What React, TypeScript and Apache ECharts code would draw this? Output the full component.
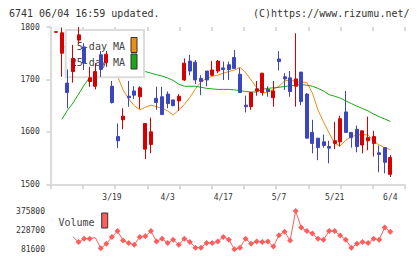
import React, { useEffect, useRef } from "react";
import * as echarts from "echarts";

// Trading days shown on the chart (one candle each)
const dates = [
  "3/5", "3/6", "3/7", "3/8", "3/11", "3/12", "3/13", "3/14", "3/15", "3/18",
  "3/19", "3/21", "3/22", "3/25", "3/26", "3/27", "3/28", "3/29", "4/1", "4/2",
  "4/3", "4/4", "4/5", "4/8", "4/9", "4/10", "4/11", "4/12", "4/15", "4/16",
  "4/17", "4/19", "4/22", "4/23", "4/24", "4/25", "4/26", "4/30", "5/1", "5/2",
  "5/7", "5/8", "5/9", "5/10", "5/13", "5/14", "5/15", "5/16", "5/17", "5/20",
  "5/21", "5/22", "5/23", "5/24", "5/27", "5/28", "5/29", "5/30", "5/31", "6/3",
  "6/4",
];

const opens = [
  1790, 1750, 1693, 1715, 1775, 1762, 1696, 1687, 1747, 1732,
  1687, 1591, 1623, 1668, 1678, 1667, 1567, 1576, 1664, 1667,
  1672, 1661, 1659, 1699, 1735, 1733, 1702, 1716, 1708, 1716,
  1722, 1728, 1742, 1710, 1651, 1648, 1678, 1675, 1681, 1665,
  1739, 1705, 1703, 1687, 1714, 1672, 1599, 1588, 1581, 1572,
  1578, 1581, 1638, 1599, 1605, 1575, 1583, 1578, 1560, 1570,
  1519,
];
const closes = [
  1791, 1789, 1675, 1740, 1785, 1731, 1703, 1715, 1719, 1748,
  1656, 1583, 1630, 1665, 1670, 1684, 1616, 1600, 1656, 1633,
  1654, 1650, 1668, 1731, 1716, 1699, 1696, 1699, 1718, 1735,
  1719, 1719, 1721, 1675, 1648, 1675, 1682, 1712, 1677, 1678,
  1734, 1701, 1677, 1701, 1658, 1588, 1578, 1570, 1574, 1569,
  1583, 1625, 1599, 1589, 1572, 1602, 1589, 1591, 1557, 1542,
  1551,
];
const lows = [
  1790, 1705, 1645, 1694, 1768, 1718, 1686, 1681, 1705, 1724,
  1654, 1569, 1605, 1648, 1663, 1644, 1548, 1559, 1642, 1633,
  1645, 1649, 1640, 1697, 1708, 1691, 1670, 1687, 1707, 1712,
  1699, 1699, 1721, 1675, 1637, 1642, 1669, 1669, 1667, 1648,
  1717, 1680, 1667, 1648, 1651, 1588, 1559, 1546, 1570, 1540,
  1567, 1572, 1599, 1570, 1561, 1559, 1565, 1553, 1523, 1521,
  1514,
];
const highs = [
  1791, 1799, 1719, 1766, 1800, 1769, 1724, 1731, 1754, 1754,
  1697, 1616, 1645, 1697, 1687, 1687, 1616, 1627, 1686, 1686,
  1677, 1661, 1672, 1740, 1747, 1737, 1708, 1716, 1735, 1737,
  1734, 1734, 1756, 1722, 1669, 1676, 1697, 1712, 1687, 1697,
  1754, 1712, 1716, 1788, 1714, 1674, 1623, 1588, 1595, 1583,
  1619, 1631, 1678, 1599, 1612, 1602, 1629, 1602, 1574, 1570,
  1556,
];

const ma5 = [
  null, 1764, 1760, 1748, 1756, 1744, 1727, 1735, 1731, 1723,
  1708, 1706, 1680, 1663, 1650, 1642, 1647, 1651, 1648, 1645,
  1640, 1632, 1642, 1652, 1666, 1682, 1695, 1702, 1706, 1708,
  1712, 1715, 1718, 1723, 1713, 1699, 1684, 1674, 1676, 1681,
  1687, 1697, 1699, 1696, 1695, 1694, 1674, 1642, 1619, 1598,
  1578, 1573, 1584, 1591, 1594, 1595, 1594, 1582, 1575, 1570,
  1566,
];
const ma25 = [
  null, 1624, 1641, 1655, 1672, 1689, 1704, 1709, 1712, 1714,
  1715, 1716, 1716, 1716, 1716, 1716, 1715, 1712, 1709, 1706.5,
  1703, 1698, 1691, 1687, 1687, 1687, 1685, 1683, 1682, 1681,
  1681, 1681, 1680, 1679, 1677, 1676, 1676, 1681, 1683, 1684,
  1685, 1686.5, 1688, 1689, 1690, 1689, 1687, 1683, 1678, 1671,
  1668, 1664.5, 1659, 1654, 1649, 1644.5, 1640, 1634, 1629, 1624.5,
  1620,
];

const volumes = [
  null, null, null, 177000, 137300, 163500, 163500, 171400, 89600, 123700,
  177000, 221500, 150000, 129300, 115800, 177000, 181800, 221500, 142000, 163500,
  129300, 155500, 115800, 163500, 137300, 94300, 94300, 129300, 129300, 142000,
  177000, 155500, 81600, 94300, 163500, 123700, 142000, 137300, 142000, 102300,
  189700, 216800, 150000, 375800, 248600, 221500, 203300, 163500, 155500, 221500,
  221500, 187300, 155500, 94300, 123700, 137300, 129300, 163500, 155500, 248600,
  216800,
];
// points on the volume line drawn without a marker
const volumePlainPoints = [3, 7];

const priceMin = 1500;
const priceMax = 1800;
const priceStep = 100;
const volumeTicks = [81600, 228700, 375800];

const MONO = "'DejaVu Sans Mono', 'Liberation Mono', monospace";
const AXIS_GRAY = "#dadada";
const RED = "#d60000";
const BLUE = "#3c46be";
const ORANGE = "#f08c10";
const GREEN = "#18a818";
const VOL = "#ff5c5c";

export default function App() {
  const ref = useRef<HTMLDivElement>(null);

  useEffect(() => {
    if (!ref.current) return;
    const chart = echarts.init(ref.current, undefined, { renderer: "svg" });

    const candleData = dates.map((_, i) => [opens[i], closes[i], lows[i], highs[i]]);
    const volumeData = volumes.map((v, i) =>
      volumePlainPoints.includes(i) ? { value: v, symbol: "none" } : v
    );

    const frameLeft = 50.7;
    const plotTop = 27;
    const plotHeight = 157.3;
    const candleLeft = 53.5;
    const candleWidth = 339.6;

    chart.setOption({
      animation: false,
      backgroundColor: "#ffffff",
      grid: [
        { left: frameLeft, top: plotTop, width: 405 - frameLeft, height: plotHeight },
        { left: candleLeft, top: plotTop, width: candleWidth, height: plotHeight },
        { left: candleLeft, top: 211, width: candleWidth, height: 38.3 },
      ],
      xAxis: [
        {
          gridIndex: 0, type: "value", min: 0, max: 11, interval: 1,
          axisLine: { show: true, lineStyle: { color: AXIS_GRAY, width: 2 } },
          axisTick: { show: true, length: 5, lineStyle: { color: AXIS_GRAY, width: 2 } },
          axisLabel: { show: false }, splitLine: { show: false },
        },
        {
          gridIndex: 0, type: "value", min: 0, max: 11, interval: 1,
          axisLine: { show: false },
          axisTick: { show: true, inside: true, length: 4, lineStyle: { color: AXIS_GRAY, width: 2 } },
          axisLabel: { show: false }, splitLine: { show: false },
        },
        {
          gridIndex: 1, type: "category", data: dates, boundaryGap: true,
          axisLine: { show: false }, axisTick: { show: false }, splitLine: { show: false },
          axisLabel: {
            interval: (i: number) => i > 0 && i % 10 === 0,
            margin: 9, fontSize: 8, fontFamily: MONO, color: "#333",
          },
        },
        { gridIndex: 2, type: "category", data: dates, boundaryGap: true, show: false },
      ],
      yAxis: [
        {
          gridIndex: 0, type: "value", min: priceMin, max: priceMax, interval: priceStep,
          axisLine: { show: true, lineStyle: { color: AXIS_GRAY, width: 2 } },
          axisTick: { show: true, length: 4, lineStyle: { color: AXIS_GRAY, width: 2 } },
          axisLabel: { margin: 11, fontSize: 8, fontFamily: MONO, color: "#333", formatter: (v: number) => String(v) },
          splitLine: { show: false },
        },
        {
          gridIndex: 0, type: "value", min: priceMin, max: priceMax, interval: priceStep,
          axisLine: { show: false },
          axisTick: { show: true, inside: true, length: 4, lineStyle: { color: AXIS_GRAY, width: 2 } },
          axisLabel: { show: false }, splitLine: { show: false },
        },
        { gridIndex: 1, type: "value", min: priceMin, max: priceMax, show: false },
        {
          gridIndex: 2, type: "value",
          min: volumeTicks[0], max: volumeTicks[2], interval: volumeTicks[1] - volumeTicks[0],
          axisLine: { show: false }, axisTick: { show: false }, splitLine: { show: false },
          axisLabel: { margin: 8.5, fontSize: 8, fontFamily: MONO, color: "#333", formatter: (v: number) => String(v) },
        },
      ],
      series: [
        {
          name: "5-day MA", type: "line", xAxisIndex: 2, yAxisIndex: 2, data: ma5,
          showSymbol: false, symbol: "none", z: 1,
          lineStyle: { color: ORANGE, width: 1 },
        },
        {
          name: "25-day MA", type: "line", xAxisIndex: 2, yAxisIndex: 2, data: ma25,
          showSymbol: false, symbol: "none", z: 1,
          lineStyle: { color: GREEN, width: 1 },
        },
        {
          name: "Price", type: "candlestick", xAxisIndex: 2, yAxisIndex: 2, data: candleData,
          barWidth: 3.5, z: 5,
          itemStyle: { color: RED, color0: BLUE, borderColor: RED, borderColor0: BLUE, borderWidth: 1 },
        },
        {
          name: "Volume", type: "line", xAxisIndex: 3, yAxisIndex: 3, data: volumeData,
          symbol: "diamond", symbolSize: 6, showSymbol: true, showAllSymbol: true, z: 3,
          lineStyle: { color: VOL, width: 1 }, itemStyle: { color: VOL },
        },
      ],
      graphic: [
        {
          type: "text", x: 9, y: 13, z: 3,
          style: { text: "6741 06/04 16:59 updated.", font: `10px ${MONO}`, fill: "#333", verticalAlign: "middle" },
        },
        {
          type: "text", x: 409.5, y: 13, z: 3,
          style: { text: "(C)https://www.rizumu.net/", font: `10px ${MONO}`, fill: "#333", align: "right", verticalAlign: "middle" },
        },
        {
          type: "rect", z: 2,
          shape: { x: 65.7, y: 30, width: 78.3, height: 47.3 },
          style: { fill: "#ffffff", stroke: "#dcdcdc", lineWidth: 2 },
        },
        {
          type: "text", x: 125, y: 46, z: 3,
          style: { text: "5-day MA", font: `10px ${MONO}`, fill: "#444", align: "right", verticalAlign: "middle" },
        },
        {
          type: "text", x: 125, y: 62.5, z: 3,
          style: { text: "25-day MA", font: `10px ${MONO}`, fill: "#444", align: "right", verticalAlign: "middle" },
        },
        {
          type: "rect", z: 3,
          shape: { x: 131, y: 37.5, width: 6, height: 15 },
          style: { fill: ORANGE, stroke: "#333", lineWidth: 1 },
        },
        {
          type: "rect", z: 3,
          shape: { x: 131, y: 54, width: 6, height: 15 },
          style: { fill: GREEN, stroke: "#333", lineWidth: 1 },
        },
        {
          type: "text", x: 94.5, y: 222, z: 3,
          style: { text: "Volume", font: `10px ${MONO}`, fill: "#444", align: "right", verticalAlign: "middle" },
        },
        {
          type: "rect", z: 3,
          shape: { x: 101.7, y: 213, width: 6, height: 15 },
          style: { fill: VOL, stroke: "#333", lineWidth: 1 },
        },
      ],
    });

    return () => chart.dispose();
  }, []);

  return (
    <div
      ref={ref}
      style={{ position: "absolute", left: 0, top: 0, width: 420, height: 259 }}
    />
  );
}
